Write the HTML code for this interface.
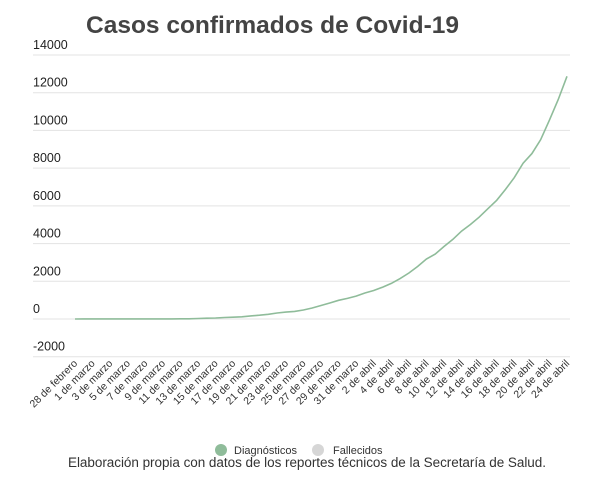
<!DOCTYPE html>
<html><head><meta charset="utf-8"><style>
body{margin:0;background:#fff;width:614px;height:493px;overflow:hidden;font-family:"Liberation Sans",sans-serif}
</style></head><body>
<svg width="614" height="493" xmlns="http://www.w3.org/2000/svg">
<text x="86" y="33" font-size="24.5" font-weight="bold" fill="#444" textLength="373">Casos confirmados de Covid-19</text>
<g id="grid"></g><g id="xl"></g>
<path id="line" fill="none" stroke="#8fbc9a" stroke-width="1.6"/>
<g>
<circle cx="221" cy="450" r="6" fill="#8fbc9a"/>
<text x="234" y="454" font-size="11" fill="#333">Diagnósticos</text>
<circle cx="318" cy="450" r="6" fill="#d6d6d6"/>
<text x="333" y="454" font-size="11" fill="#333">Fallecidos</text>
</g>
<text x="307" y="467" text-anchor="middle" font-size="13.5" fill="#333" textLength="478">Elaboración propia con datos de los reportes técnicos de la Secretaría de Salud.</text>
</svg>
<script>
const yTicks=[-2000,0,2000,4000,6000,8000,10000,12000,14000];
const xLabels=["28 de febrero","1 de marzo","3 de marzo","5 de marzo","7 de marzo","9 de marzo","11 de marzo","13 de marzo","15 de marzo","17 de marzo","19 de marzo","21 de marzo","23 de marzo","25 de marzo","27 de marzo","29 de marzo","31 de marzo","2 de abril","4 de abril","6 de abril","8 de abril","10 de abril","12 de abril","14 de abril","16 de abril","18 de abril","20 de abril","22 de abril","24 de abril"];
const diagnosticos=[1,4,5,5,5,5,5,6,7,7,7,7,11,12,26,41,53,82,93,118,164,203,251,316,367,405,475,585,717,848,993,1094,1215,1378,1510,1688,1890,2143,2439,2785,3181,3441,3844,4219,4661,5014,5399,5847,6297,6875,7497,8261,8772,9501,10544,11633,12872];
const NS='http://www.w3.org/2000/svg';
const y=v=>319-(v)*(264/14000);
const x=i=>75+i*(492/(diagnosticos.length-1));
const grid=document.getElementById('grid');
yTicks.forEach(t=>{
 const l=document.createElementNS(NS,'line');
 l.setAttribute('x1',33);l.setAttribute('x2',570);l.setAttribute('y1',y(t));l.setAttribute('y2',y(t));
 l.setAttribute('stroke','#e3e3e3');
 
 
 grid.appendChild(l);
 const tx=document.createElementNS(NS,'text');
 tx.setAttribute('x',33);tx.setAttribute('y',y(t)-6);tx.setAttribute('font-size','12.5');tx.setAttribute('fill','#222');
 tx.textContent=t;
 
 
 grid.appendChild(tx);
});
const xl=document.getElementById('xl');
xLabels.forEach((s,k)=>{
 const px=x(k*2)+3,py=364;
 const tx=document.createElementNS(NS,'text');
 tx.setAttribute('x',px);tx.setAttribute('y',py);tx.setAttribute('font-size','10.5');tx.setAttribute('fill','#333');
 tx.setAttribute('text-anchor','end');tx.setAttribute('transform','rotate(-45 '+px+' '+py+')');
 tx.textContent=s;
 
 
 xl.appendChild(tx);
});
document.getElementById('line').setAttribute('d',diagnosticos.map((v,i)=>(i?'L':'M')+x(i).toFixed(1)+' '+y(v).toFixed(1)).join(' '));
</script>
</body></html>
